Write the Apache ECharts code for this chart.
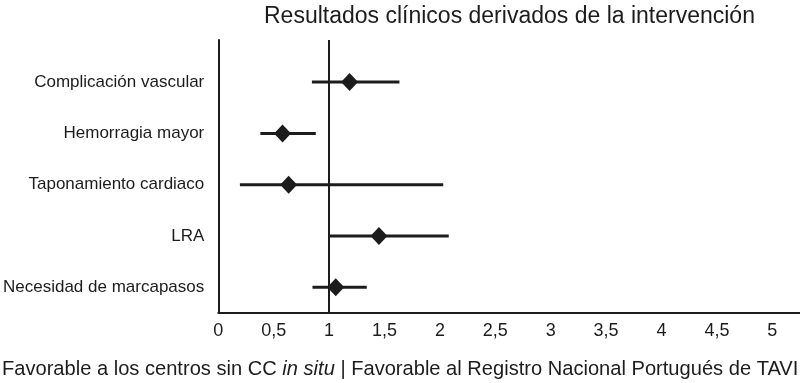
<!DOCTYPE html>
<html><head><meta charset="utf-8">
<script src="https://cdn.jsdelivr.net/npm/echarts@6/dist/echarts.min.js"></script>
<style>html,body{margin:0;padding:0;background:#fff}#c{width:800px;height:383px}</style>
</head><body><div id="c"></div>
<script>
const categories = ["Necesidad de marcapasos", "LRA", "Taponamiento cardiaco", "Hemorragia mayor", "Complicación vascular"];
const pointEst = [1.06, 1.45, 0.635, 0.58, 1.185];
const ciLow = [0.85, 1.0, 0.195, 0.38, 0.845];
const ciHigh = [1.34, 2.08, 2.03, 0.88, 1.635];
const xTicks = [0, 0.5, 1, 1.5, 2, 2.5, 3, 3.5, 4, 4.5, 5];
const titleText = "Resultados clínicos derivados de la intervención";
const footLeft = "Favorable a los centros sin CC ";
const footItalic = "in situ";
const footRight = " | Favorable al Registro Nacional Portugués de TAVI";

const FONT = "Liberation Sans";
const INK = "#1c1c1c";
const rows = categories.map((c, i) => i + 1);

const chart = echarts.init(document.getElementById('c'), null, {renderer: 'canvas'});
chart.setOption({
  animation: false,
  backgroundColor: '#fff',
  title: [
    {text: titleText, left: 259, top: 0,
     textStyle: {fontFamily: FONT, fontSize: 23, fontWeight: 'normal', color: INK}},
    {text: '{n|' + footLeft + '}{i|' + footItalic + '}{n|' + footRight + '}', left: -3, top: 354,
     textStyle: {fontWeight: 'normal', rich: {
       n: {fontFamily: FONT, fontSize: 20.1, fontWeight: 'normal', color: INK},
       i: {fontFamily: FONT, fontSize: 20.1, fontWeight: 'normal', fontStyle: 'italic', color: INK}
     }}}
  ],
  grid: {left: 216, right: 0, top: 40, bottom: 70, containLabel: false},
  xAxis: {
    type: 'value', min: 0, max: 5.25, interval: 0.5,
    splitLine: {show: false},
    axisTick: {show: false},
    axisLine: {show: true, onZero: false, lineStyle: {color: INK, width: 2}},
    axisLabel: {
      customValues: xTicks, margin: 9,
      fontFamily: FONT, fontSize: 18, color: INK,
      formatter: v => String(v).replace('.', ',')
    }
  },
  yAxis: {
    type: 'value', min: 0.5, max: 5.82,
    splitLine: {show: false},
    axisTick: {show: false},
    axisLine: {show: true, onZero: false, lineStyle: {color: INK, width: 2}},
    axisLabel: {
      customValues: rows, margin: 14,
      fontFamily: FONT, fontSize: 17, color: INK,
      formatter: v => categories[Math.round(v) - 1] || ''
    }
  },
  series: [
    {
      type: 'custom',
      data: rows.map((r, i) => [ciLow[i], ciHigh[i], r]),
      renderItem: (params, api) => {
        const a = api.coord([api.value(0), api.value(2)]);
        const b = api.coord([api.value(1), api.value(2)]);
        return {type: 'line', shape: {x1: a[0], y1: a[1], x2: b[0], y2: b[1]},
                style: {stroke: INK, lineWidth: 3}};
      },
      z: 2
    },
    {
      type: 'scatter',
      data: rows.map((r, i) => [pointEst[i], r]),
      symbol: 'diamond', symbolSize: [17, 18],
      itemStyle: {color: INK, opacity: 1},
      z: 3,
      markLine: {
        silent: true, symbol: ['none', 'none'],
        label: {show: false},
        lineStyle: {color: INK, width: 2, type: 'solid'},
        data: [{xAxis: 1}]
      }
    }
  ]
});
</script></body></html>
